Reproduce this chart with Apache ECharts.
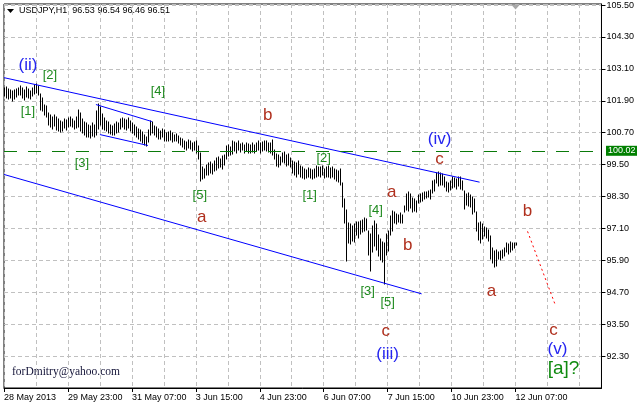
<!DOCTYPE html>
<html><head><meta charset="utf-8">
<script src="https://cdn.jsdelivr.net/npm/echarts@6/dist/echarts.min.js"></script>
<style>html,body{margin:0;padding:0;background:#fff}#c{width:637px;height:406px}</style>
</head><body><div id="c"></div>
<script>
// ---- data ----
const symbolTitle = 'USDJPY,H1  96.53 96.54 96.46 96.51';
const tickLabels = ['28 May 2013','29 May 23:00','31 May 07:00','3 Jun 15:00','4 Jun 23:00','6 Jun 07:00','7 Jun 15:00','10 Jun 23:00','12 Jun 07:00'];
const barsPerLabel = 32;
const barsPerGrid = 16;
const slotCount = 300;
const yMin = 91.1, yMax = 105.54, yStep = 1.2;
const highs = [
102.38,102.42,102.35,102.30,102.28,102.32,102.36,102.40,102.45,102.38,
102.30,102.42,102.35,102.28,102.40,102.48,102.52,102.45,102.15,102.00,
101.75,101.70,101.45,101.35,101.30,101.38,101.28,101.20,101.15,101.10,
101.22,101.18,101.25,101.28,101.22,101.15,101.30,101.57,101.45,101.20,
101.10,101.05,101.00,100.95,101.05,100.98,101.50,101.79,101.65,101.40,
101.25,101.15,101.10,101.00,100.95,101.02,101.10,101.05,101.20,101.27,
101.22,101.18,101.25,101.15,101.05,101.00,100.90,100.85,100.80,100.72,
100.60,100.55,100.80,101.15,101.10,100.95,100.90,100.85,100.78,100.85,
100.80,100.70,100.72,100.75,100.68,100.62,100.65,100.58,100.50,100.45,
100.40,100.35,100.42,100.38,100.30,100.35,100.40,100.20,99.95,99.40,
99.35,99.50,99.55,99.58,99.52,99.62,99.75,99.80,99.72,99.82,
99.88,100.20,100.25,100.15,100.40,100.35,100.30,100.37,100.28,100.33,
100.25,100.30,100.27,100.22,100.30,100.25,100.32,100.38,100.30,100.35,
100.40,100.38,100.33,100.30,100.44,100.05,99.90,99.85,99.80,99.95,
99.98,99.85,99.90,99.75,99.65,99.60,99.55,99.62,99.45,99.40,
99.35,99.30,99.38,99.35,99.28,99.32,99.45,99.42,99.40,99.45,
99.35,99.40,99.43,99.38,99.42,99.35,99.28,99.25,99.32,98.80,
98.20,97.80,97.30,97.25,97.20,97.28,97.35,97.33,97.38,97.40,
97.50,97.45,97.00,96.90,97.20,97.37,97.25,96.85,96.70,96.60,
96.55,96.90,97.00,97.55,97.75,97.70,97.65,97.60,97.68,97.62,
97.93,98.38,98.46,98.40,98.25,98.20,98.15,98.35,98.38,98.45,
98.48,98.46,98.50,98.55,98.90,98.92,99.20,99.24,99.20,99.13,
99.05,98.85,98.80,98.88,99.05,99.00,98.95,99.05,99.02,98.90,
98.50,98.40,98.45,98.35,98.30,98.20,97.70,97.30,97.35,97.25,
97.15,97.10,97.05,96.80,96.35,96.25,96.30,96.20,96.25,96.30,
96.35,96.55,96.50,96.58,96.56,96.55,96.54];
const lows = [
102.08,102.02,101.96,102.00,101.90,101.95,102.05,102.10,102.12,102.00,
101.92,102.05,102.00,101.98,102.08,102.15,102.18,102.10,101.55,101.50,
101.35,101.28,101.00,100.90,100.85,100.95,100.82,100.78,100.72,100.75,
100.88,100.80,100.90,100.95,100.92,100.85,100.88,100.90,100.75,100.70,
100.60,100.55,100.52,100.50,100.58,100.55,100.62,100.85,101.00,100.85,
100.80,100.78,100.70,100.65,100.62,100.60,100.68,100.72,100.85,100.90,
100.85,100.80,100.88,100.78,100.70,100.62,100.52,100.45,100.40,100.30,
100.25,100.20,100.35,100.60,100.70,100.62,100.55,100.45,100.48,100.52,
100.40,100.40,100.38,100.42,100.35,100.37,100.40,100.33,100.22,100.15,
100.10,100.05,100.12,100.08,100.00,100.05,99.95,99.70,98.87,98.95,
99.00,99.10,99.12,99.20,99.15,99.25,99.30,99.38,99.42,99.35,
99.48,99.70,99.82,99.85,99.90,100.00,99.95,100.05,99.98,100.05,
99.95,100.00,99.95,99.92,99.98,99.95,100.02,100.05,99.95,100.00,
100.05,100.00,99.98,99.92,99.85,99.70,99.45,99.42,99.50,99.60,
99.55,99.45,99.50,99.40,99.20,99.10,99.05,99.15,99.05,99.00,
98.95,99.00,99.02,98.98,98.95,98.98,99.05,99.08,99.02,99.10,
99.00,99.05,99.02,98.98,99.05,98.96,98.90,98.85,98.75,97.90,
97.30,95.87,96.55,96.50,96.62,96.58,96.85,96.75,96.90,96.95,
97.00,97.05,96.10,95.50,96.20,96.45,96.30,96.05,95.90,95.85,
95.01,96.10,96.25,96.85,97.00,97.30,97.28,97.35,97.30,97.32,
97.70,97.80,97.75,97.85,97.70,97.75,97.72,98.05,98.08,98.15,
98.20,98.25,98.28,98.22,98.45,98.50,98.80,98.70,98.75,98.72,
98.65,98.50,98.48,98.55,98.62,98.65,98.60,98.68,98.60,98.55,
97.82,98.00,97.95,97.90,97.65,97.70,97.00,96.65,96.55,96.70,
96.80,96.75,96.62,95.95,95.80,95.65,95.70,95.95,95.90,96.00,
96.05,96.20,96.15,96.22,96.30,96.38,96.46];
const levelPrice = 100.02;
const channelUpper = [[0, 102.77], [238, 98.84]];
const channelLower = [[0, 99.13], [209, 94.64]];
const wedgeUpper = [[46, 101.76], [74, 101.12]];
const wedgeLower = [[48, 100.63], [72, 100.22]];
const projection = [[262, 96.99], [276, 94.20]];
const waveLabels = [
 ['(ii)', 12, 103.25, 'blue'], ['[2]', 23, 102.84, 'green'], ['[1]', 12, 101.49, 'green'],
 ['[3]', 39, 99.56, 'green'], ['[4]', 77, 102.24, 'green'], ['[5]', 98, 98.36, 'green'],
 ['a', 99, 97.50, 'red'], ['b', 132, 101.36, 'red'], ['[2]', 160, 99.75, 'green'],
 ['[1]', 153, 98.33, 'green'], ['a', 194, 98.44, 'red'], ['[4]', 186, 97.76, 'green'],
 ['b', 202, 96.45, 'red'], ['[3]', 182, 94.73, 'green'], ['[5]', 192, 94.30, 'green'],
 ['c', 191, 93.23, 'red'], ['(iii)', 192, 92.37, 'blue'], ['(iv)', 218, 100.46, 'blue'],
 ['c', 218, 99.69, 'red'], ['b', 262, 97.74, 'red'], ['a', 244, 94.73, 'red'],
 ['c', 275, 93.27, 'red'], ['(v)', 277, 92.54, 'blue'], ['[a]?', 280, 91.82, 'big']
];

// ---- styles ----
const FONT = '"Liberation Sans", Arial, sans-serif';
const labelStyles = {
  blue:  {color: '#2424f0', fontSize: 17},
  green: {color: '#1e8a1e', fontSize: 13},
  red:   {color: '#b0301e', fontSize: 17},
  big:   {color: '#0f8a0f', fontSize: 19}
};
const lastBar = highs.length - 1;
const cats = Array.from({length: slotCount}, (_, i) => String(i));
const showLabel = (i) => i % barsPerLabel === 0 && i / barsPerLabel < tickLabels.length && i <= lastBar;

const chart = echarts.init(document.getElementById('c'), null, {renderer: 'canvas'});
const seg = (p, style) => [{coord: p[0], lineStyle: style}, {coord: p[1]}];
const blue = {color: '#0000ff', width: 1, type: 'solid'};

chart.setOption({
  animation: false,
  backgroundColor: '#fff',
  grid: {left: 4, right: 34, top: 4, bottom: 18, show: true, borderColor: '#000', borderWidth: 1},
  xAxis: {
    type: 'category', data: cats, boundaryGap: false,
    axisLine: {lineStyle: {color: '#000', width: 1}},
    axisTick: {show: true, interval: showLabel, length: 4, lineStyle: {color: '#000'}},
    axisLabel: {interval: showLabel, formatter: (v, i) => tickLabels[Math.round(i / barsPerLabel)] || '',
      align: 'left', margin: 5, fontSize: 9, color: '#000', fontFamily: FONT},
    splitLine: {show: true, interval: (i) => i % barsPerGrid === 0, lineStyle: {color: '#c0c0c0', type: [4, 3], width: 1}}
  },
  yAxis: {
    type: 'value', position: 'right', min: yMin, max: yMax, interval: yStep,
    axisLine: {show: true, lineStyle: {color: '#000', width: 1}},
    axisTick: {show: true, length: 4, lineStyle: {color: '#000'}},
    axisLabel: {formatter: (v) => v.toFixed(2), showMinLabel: false, showMaxLabel: false,
      fontSize: 9, color: '#000', margin: 5, fontFamily: FONT},
    splitLine: {show: true, lineStyle: {color: '#c0c0c0', type: [4, 3], width: 1}}
  },
  series: [
    {
      type: 'custom', name: 'bars',
      data: lows.map((l, i) => [i, l, highs[i]]),
      encode: {x: 0, y: [1, 2]},
      clip: true,
      renderItem: (params, api) => {
        const i = api.value(0);
        const lo = api.coord([i, api.value(1)]);
        const hi = api.coord([i, api.value(2)]);
        const x = Math.round(lo[0]) + 0.5;
        return {type: 'line', shape: {x1: x, y1: Math.round(lo[1]) + 0.5, x2: x, y2: Math.round(hi[1]) - 0.5},
          style: {stroke: '#000', lineWidth: 1}};
      },
      z: 3
    },
    {
      type: 'line', name: 'lines', data: [], z: 4,
      markLine: {
        silent: true, symbol: ['none', 'none'], animation: false,
        label: {show: false},
        data: [
          seg(channelUpper, blue), seg(channelLower, blue),
          seg(wedgeUpper, blue), seg(wedgeLower, blue),
          seg(projection, {color: '#ff0000', width: 1, type: [2, 3]}),
          [{yAxis: levelPrice, x: 4, lineStyle: {color: '#0a7a0a', width: 1, type: [13, 11]},
            label: {show: true, position: 'end', formatter: levelPrice.toFixed(2), color: '#fff',
              backgroundColor: '#008000', padding: [1, 2, 0, 2], fontSize: 9, fontFamily: FONT, distance: 3}},
           {yAxis: levelPrice, x: 603}]
        ]
      },
      markPoint: {
        silent: true, animation: false,
        data: waveLabels.map(([t, b, p, k]) => ({
          coord: [b, p], symbol: 'circle', symbolSize: 1,
          itemStyle: {color: 'rgba(0,0,0,0)'},
          label: {show: true, position: 'inside', formatter: t,
            color: labelStyles[k].color, fontSize: labelStyles[k].fontSize, fontFamily: FONT}
        })).concat([{
          coord: [lastBar, yMax], symbol: 'triangle', symbolRotate: 180, symbolSize: [9, 5],
          symbolOffset: [0, 3], itemStyle: {color: '#a8a8a8'}, label: {show: false}
        }])
      }
    }
  ],
  graphic: [
    {type: 'polygon', shape: {points: [[7, 9], [14, 9], [10.5, 13]]}, style: {fill: '#000'}},
    {type: 'text', style: {text: symbolTitle, x: 19, y: 11, verticalAlign: 'middle', align: 'left',
      fill: '#000', font: '9px ' + FONT}},
    {type: 'text', style: {text: 'forDmitry@yahoo.com', x: 12, y: 372, verticalAlign: 'middle', align: 'left',
      fill: '#141438', font: '11.5px "Liberation Serif", "Times New Roman", serif'}}
  ]
});
</script></body></html>
